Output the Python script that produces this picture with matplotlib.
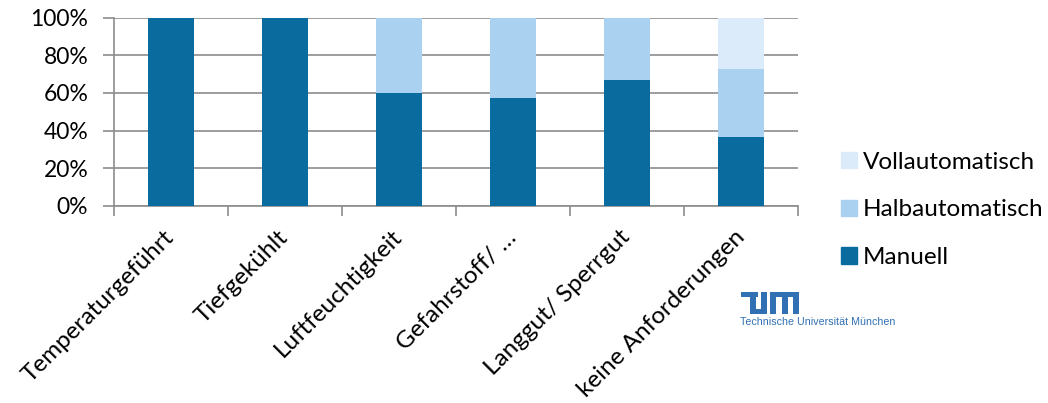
import matplotlib
matplotlib.use('Agg')
import matplotlib.pyplot as plt
import numpy as np
from matplotlib.patches import Rectangle, Patch
from matplotlib.ticker import FixedLocator, PercentFormatter

plt.rcParams['font.family'] = ['Lato', 'DejaVu Sans']

# Anteil der Kommissionierart je Lageranforderung (in %)
categories = ['Temperaturgeführt', 'Tiefgekühlt', 'Luftfeuchtigkeit',
              'Gefahrstoff/ …', 'Langgut/ Sperrgut', 'keine Anforderungen']
manuell = [100, 100, 60.0, 57.1, 66.7, 36.4]
halbautomatisch = [0, 0, 40.0, 42.9, 33.3, 36.4]
vollautomatisch = [0, 0, 0, 0, 0, 27.3]

c_manuell = '#0a6c9e'
c_halb = '#abd1f0'
c_voll = '#dcebf9'
grid_c = '#8c8c8c'

W, H = 1048, 403
fig = plt.figure(figsize=(W / 100, H / 100), dpi=100)
ax = fig.add_axes([114 / W, (H - 206) / H, (798 - 114) / W, (206 - 17.5) / H])

x = np.arange(len(categories))
bw = 0.4
ax.bar(x, manuell, bw, color=c_manuell, zorder=3)
ax.bar(x, halbautomatisch, bw, bottom=manuell, color=c_halb, zorder=3)
bottom2 = np.array(manuell) + np.array(halbautomatisch)
ax.bar(x, vollautomatisch, bw, bottom=bottom2, color=c_voll, zorder=3)

ax.set_xlim(-0.5, len(categories) - 0.5)
ax.set_ylim(0, 100)
ax.set_yticks(np.arange(0, 101, 20))
ax.yaxis.set_major_formatter(PercentFormatter(decimals=0))
ax.yaxis.grid(True, color=grid_c, linewidth=1.2, zorder=0)

# Trennstriche zwischen den Kategorien, Beschriftung in der Mitte
ax.xaxis.set_major_locator(FixedLocator(np.arange(-0.5, len(categories), 1.0)))
ax.xaxis.set_major_formatter(plt.NullFormatter())
ax.set_xticks(x, categories, minor=True)
ax.tick_params(axis='x', which='major', length=7, width=1.2, color=grid_c, direction='out')
ax.tick_params(axis='x', which='minor', length=0, pad=20, labelsize=17.5)
ax.tick_params(axis='y', length=8, width=1.2, color=grid_c, labelsize=16.5, pad=10.5)
for lab in ax.get_xticklabels(minor=True):
    lab.set_rotation(45)
    lab.set_ha('right')
    lab.set_va('center')
    lab.set_rotation_mode('anchor')

for s in ['top', 'right']:
    ax.spines[s].set_visible(False)
for s in ['left', 'bottom']:
    ax.spines[s].set_color(grid_c)
    ax.spines[s].set_linewidth(1.2)

handles = [Patch(color=c_voll, label='Vollautomatisch'),
           Patch(color=c_halb, label='Halbautomatisch'),
           Patch(color=c_manuell, label='Manuell')]
fig.legend(handles=handles, loc='upper left', bbox_to_anchor=(831 / W, 1 - 142 / H),
           frameon=False, fontsize=17.5, handlelength=0.66, handleheight=0.66,
           handletextpad=0.25, labelspacing=1.1, borderaxespad=0)

# TUM-Logo
logo = fig.add_axes([741 / W, (H - 314) / H, 58 / W, 22 / H])
logo.set_xlim(0, 58)
logo.set_ylim(22, 0)
logo.axis('off')
tum_blue = '#3070b3'
for (lx, ly, lw, lh) in [(0, 0, 16.5, 5), (9, 0, 6, 22), (9, 17, 17, 5), (20, 0, 6, 22),
                         (29, 0, 29, 5), (29, 0, 6, 22), (40.5, 0, 6, 22), (52, 0, 6, 22)]:
    logo.add_patch(Rectangle((lx, ly), lw, lh, color=tum_blue, lw=0))
fig.text(740 / W, 1 - 322 / H, 'Technische Universität München', color=tum_blue,
         fontsize=7.7, family=['Liberation Sans', 'DejaVu Sans'], va='center', ha='left')

fig.savefig('out.png', dpi=100)
